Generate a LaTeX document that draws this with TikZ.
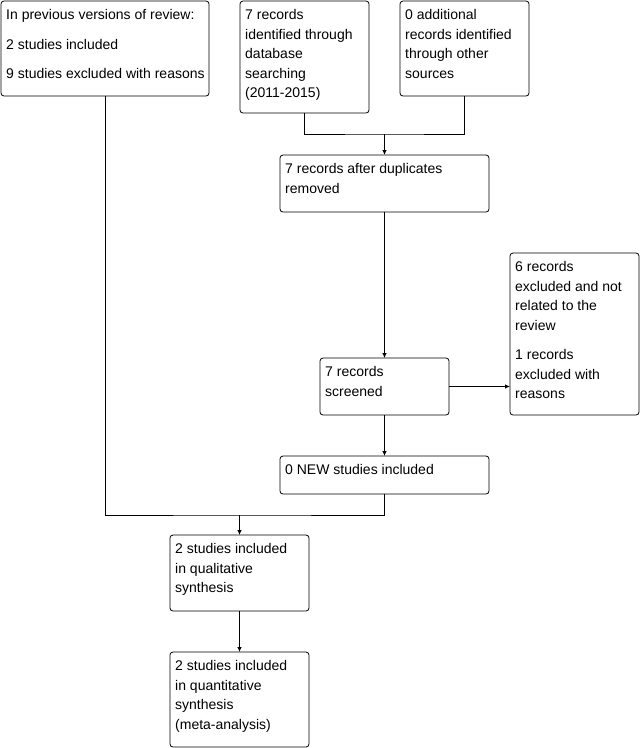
\documentclass[tikz,border=0pt]{standalone}
\usepackage{fontspec}
\setmainfont{Liberation Sans}
\usepackage{tikz}
\usetikzlibrary{arrows.meta,positioning,calc}
\definecolor{Ink}{HTML}{000000}

\begin{document}
\begin{tikzpicture}[
  x=1pt,y=-1pt,
  flow/.style 2 args={draw=Ink,line width=0.8pt,rounded corners=3pt,anchor=north west,inner sep=0pt,outer sep=0pt,minimum width=#1,minimum height=#2},
  txt/.style={anchor=north west,align=left,inner sep=0pt,text=Ink,font=\fontsize{14}{19.5}\selectfont,xshift=5pt,yshift=-8.5pt},
  ln/.style={draw=Ink,line width=0.8pt},
  arr/.style={-{Latex[length=5pt,width=4.5pt]},line width=0.8pt,draw=Ink}
]
\useasboundingbox (0,0) rectangle (641,748);
\node[flow={208pt}{95pt},label={[txt]north west:{In previous versions of review:\\[10pt]2 studies included\\[10pt]9 studies excluded with reasons}}] (prev) at (1,1) {};
\node[flow={129pt}{112pt},label={[txt]north west:{7 records\\identified through\\database\\searching\\(2011-2015)}}] (db) at (240,1) {};
\node[flow={129pt}{95pt},label={[txt]north west:{0 additional\\records identified\\through other\\sources}}] (other) at (400,1) {};
\node[flow={209pt}{57pt},label={[txt]north west:{7 records after duplicates\\removed}}] (dup) at (280,155) {};
\node[flow={129pt}{57pt},label={[txt]north west:{7 records\\screened}}] (screen) at (320,358) {};
\node[flow={129pt}{162pt},label={[txt]north west:{6 records\\excluded and not\\related to the\\review\\[10pt]1 records\\excluded with\\reasons}}] (excl) at (510,253) {};
\node[flow={209pt}{38pt},label={[txt]north west:{0 NEW studies included}}] (new) at (280,456) {};
\node[flow={139pt}{76pt},label={[txt]north west:{2 studies included\\in qualitative\\synthesis}}] (qual) at (170,535) {};
\node[flow={139pt}{95pt},label={[txt]north west:{2 studies included\\in quantitative\\synthesis\\(meta-analysis)}}] (quant) at (170,652) {};
\coordinate (join1) at (384.5,134);
\coordinate (join2) at (239.5,515);
\draw[ln] (db.south) |- (join1) -| (other.south);
\draw[arr] (join1) -- (dup.north);
\draw[arr] (dup) -- (screen);
\draw[arr] (screen.east) -- (screen.east -| excl.west);
\draw[arr] (screen) -- (new);
\draw[ln] (prev.south) |- (join2) -| (new.south);
\draw[arr] (join2) -- (qual.north);
\draw[arr] (qual) -- (quant);
\end{tikzpicture}
\end{document}
